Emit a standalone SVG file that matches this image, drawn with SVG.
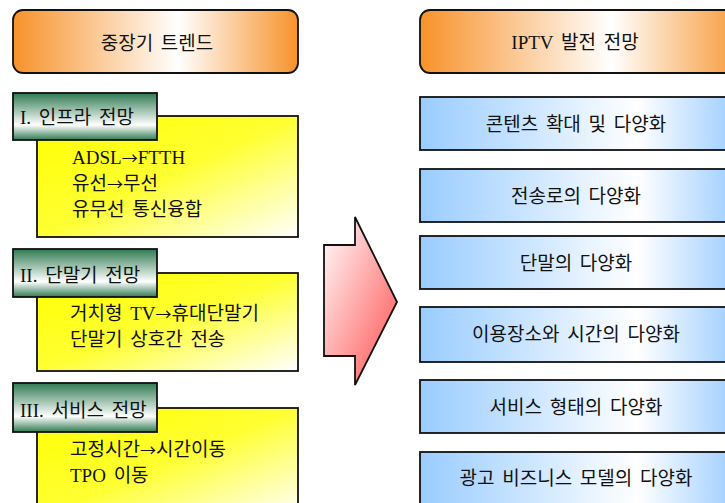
<svg xmlns="http://www.w3.org/2000/svg" width="725" height="503" viewBox="0 0 725 503">
<defs>
<linearGradient id="gOrange" x1="0" y1="0" x2="1" y2="0">
<stop offset="0" stop-color="#f7922a"/>
<stop offset="0.58" stop-color="#ffffff"/>
<stop offset="1" stop-color="#f7922a"/>
</linearGradient>
<linearGradient id="gBlue" x1="0" y1="0" x2="1" y2="0">
<stop offset="0" stop-color="#99ccff"/>
<stop offset="0.68" stop-color="#ffffff"/>
<stop offset="1" stop-color="#99ccff"/>
</linearGradient>
<linearGradient id="gGreen" x1="0" y1="0" x2="0" y2="1">
<stop offset="0" stop-color="#2f7a52"/>
<stop offset="0.68" stop-color="#ffffff"/>
<stop offset="1" stop-color="#2f7a52"/>
</linearGradient>
<linearGradient id="gYellow" x1="0" y1="0" x2="1" y2="1">
<stop offset="0" stop-color="#ffff00"/>
<stop offset="0.5" stop-color="#ffff33"/>
<stop offset="1" stop-color="#ffffff"/>
</linearGradient>
<linearGradient id="gRed" x1="0" y1="0" x2="1" y2="1">
<stop offset="0" stop-color="#ffffff"/>
<stop offset="1" stop-color="#ff4d4d"/>
</linearGradient>
</defs>
<style>
.t{font-family:"Liberation Serif","Noto Sans CJK KR",serif;font-size:19px;fill:#111;word-spacing:3px}
.c{text-anchor:middle}
.ar{font-family:"Noto Sans CJK KR",sans-serif;font-size:16px}
.hdr{fill:url(#gOrange);stroke:#111;stroke-width:1.8}
.blue{fill:url(#gBlue);stroke:#111;stroke-width:1.8}
.green{fill:url(#gGreen);stroke:#111;stroke-width:1.8}
.yellow{fill:url(#gYellow);stroke:#111;stroke-width:1.8}
</style>

<g id="left-header">
<rect class="hdr" x="13" y="10" width="285" height="63" rx="10"/>
<text class="t c" x="157" y="50">중장기 트렌드</text>
</g>

<g id="infra">
<rect class="yellow" x="37" y="116" width="261" height="121"/>
<rect class="green" x="13" y="93" width="144" height="47"/>
<text class="t" x="20" y="124">I. 인프라 전망</text>
<text class="t" x="72" y="164">ADSL<tspan class="ar">→</tspan>FTTH</text>
<text class="t" x="72" y="190">유선<tspan class="ar">→</tspan>무선</text>
<text class="t" x="72" y="216">유무선 통신융합</text>
</g>

<g id="terminal">
<rect class="yellow" x="37" y="273" width="261" height="98"/>
<rect class="green" x="13" y="249" width="144" height="48"/>
<text class="t" x="20" y="282">II. 단말기 전망</text>
<text class="t" x="70" y="320">거치형 TV<tspan class="ar">→</tspan>휴대단말기</text>
<text class="t" x="70" y="346">단말기 상호간 전송</text>
</g>

<g id="service">
<rect class="yellow" x="37" y="408" width="261" height="110"/>
<rect class="green" x="13" y="383" width="144" height="49"/>
<text class="t" x="20" y="417">III. 서비스 전망</text>
<text class="t" x="70" y="456">고정시간<tspan class="ar">→</tspan>시간이동</text>
<text class="t" x="70" y="482">TPO 이동</text>
</g>

<g id="big-arrow">
<polygon points="324,245 355,245 355,217 397,302 355,385 355,356 324,356" fill="url(#gRed)" stroke="#111" stroke-width="1.8" stroke-linejoin="miter"/>
</g>

<g id="right-header">
<rect class="hdr" x="420" y="10" width="330" height="63" rx="10"/>
<text class="t c" x="575" y="49">IPTV 발전 전망</text>
</g>

<g id="r1"><rect class="blue" x="420" y="97" width="320" height="53"/><text class="t c" x="576" y="131">콘텐츠 확대 및 다양화</text></g>
<g id="r2"><rect class="blue" x="420" y="169" width="320" height="53"/><text class="t c" x="576" y="203">전송로의 다양화</text></g>
<g id="r3"><rect class="blue" x="420" y="236" width="320" height="53"/><text class="t c" x="576" y="270">단말의 다양화</text></g>
<g id="r4"><rect class="blue" x="420" y="307" width="320" height="55"/><text class="t c" x="576" y="341">이용장소와 시간의 다양화</text></g>
<g id="r5"><rect class="blue" x="420" y="380" width="320" height="53"/><text class="t c" x="576" y="414">서비스 형태의 다양화</text></g>
<g id="r6"><rect class="blue" x="420" y="452" width="320" height="60"/><text class="t c" x="576" y="485">광고 비즈니스 모델의 다양화</text></g>

<g id="connectors"></g>
</svg>
